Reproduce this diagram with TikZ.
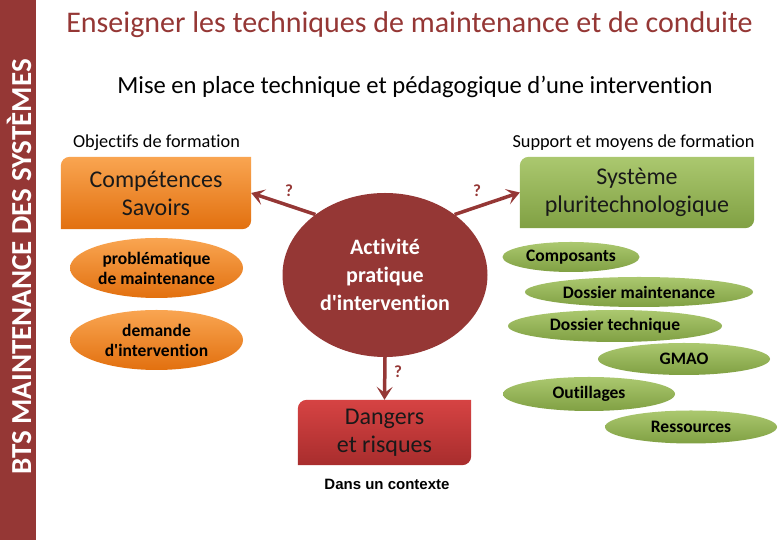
\documentclass[tikz,border=0pt]{standalone}
\usepackage{fontspec}
\setmainfont{Carlito}[Ligatures={TeXOff,NoCommon}]
\newfontfamily\arialfont{Liberation Sans}
\usetikzlibrary{arrows.meta,%
                shapes.geometric,%
                backgrounds}
\definecolor{bordeaux}{HTML}{953735}
\definecolor{orangeA}{HTML}{F9A551}
\definecolor{orangeB}{HTML}{E2700F}
\definecolor{vertA}{HTML}{ABC86F}
\definecolor{vertB}{HTML}{80A043}
\definecolor{rougeA}{HTML}{D64343}
\definecolor{rougeB}{HTML}{A82D2D}
\newcommand{\fsz}[2]{\fontsize{#1}{#2}\selectfont}

\begin{document}
\begin{tikzpicture}[x=1pt,y=1pt,>={Stealth[length=13pt,width=16pt,inset=6pt]}]
  \tikzset{boite/.style   = {minimum width=#1, inner sep=0pt, align=center,
                             text=black!90, font=\fsz{24}{28}},
           bulle/.style   = {ellipse, inner sep=0pt, align=center,
                             font=\bfseries\fsz{17.5}{20}},
           orangeb/.style = {bulle, top color=orangeA, bottom color=orangeB},
           verteb/.style  = {bulle, top color=vertA, bottom color=vertB},
           fleche/.style  = {->, line width=3.5pt, bordeaux},
           quest/.style   = {text=bordeaux, font=\bfseries\fsz{17}{20}},
           legende/.style = {font=\fsz{18.3}{21}}}
  \useasboundingbox (0,0) rectangle (780,540);
  \fill[bordeaux] (0,0) rectangle (36,540);
  \node[rotate=90, text=white, font=\bfseries\fsz{29}{31}] (bts) at (19,273)
       {BTS MAINTENANCE DES SYSTÈMES};

  \node[anchor=base, text=bordeaux, font=\fsz{30}{34}] (titre) at (409.5,507)
       {Enseigner les techniques de maintenance et de conduite};
  \node[anchor=base, font=\fsz{24.6}{28}] (mise) at (415,446)
       {Mise en place technique et pédagogique d’une intervention};
  \node[legende, anchor=base] (obj) at (156.5,392) {Objectifs de formation};
  \node[legende, anchor=base] (sup) at (633.5,392) {Support et moyens de formation};

  % boites
  \node[boite=190pt, minimum height=72pt] (comp) at (156,347) {Compétences\\Savoirs};
  \node[boite=234pt, minimum height=71pt] (sys)  at (637,347.5) {Système\\pluritechnologique};
  \node[boite=173pt, minimum height=65pt] (dang) at (384.5,107.5) {Dangers\\et risques};
  \begin{pgfonlayer}{background}
    \fill[white] (0,0) rectangle (780,540);
    \foreach \n/\c in {comp/orange, sys/vert, dang/rouge}
      \shade[top color=\c A, bottom color=\c B]
        ([yshift=-9pt]\n.north west) arc[start angle=180, end angle=90, radius=9pt]
        -- (\n.north east) -- ([yshift=9pt]\n.south east)
        arc[start angle=0, end angle=-90, radius=9pt] -- (\n.south west) -- cycle;
  \end{pgfonlayer}

  \node[ellipse, fill=bordeaux, minimum width=205pt, minimum height=164pt,
        inner sep=0pt, align=center, text=white, font=\bfseries\fsz{22}{28}]
       (act) at (385,265) {Activité\\pratique\\d'intervention};

  \node[orangeb, minimum width=173pt, minimum height=60pt] (pb)  at (156.5,272)
       {problématique\\de maintenance};
  \node[orangeb, minimum width=173pt, minimum height=60pt] (dem) at (156.5,200)
       {demande\\d'intervention};

  \node[verteb, minimum width=137pt, minimum height=30pt] (cps)  at (571,283) {Composants};
  \node[verteb, minimum width=228pt, minimum height=30pt] (dma)  at (639,248) {Dossier maintenance};
  \node[verteb, minimum width=214pt, minimum height=32pt] (dte)  at (615,214) {Dossier technique};
  \node[verteb, minimum width=172pt, minimum height=32pt] (gmao) at (684,181) {GMAO};
  \node[verteb, minimum width=172pt, minimum height=34pt] (out)  at (589,146) {Outillages};
  \node[verteb, minimum width=172pt, minimum height=33pt] (res)  at (691,113) {Ressources};

  \node[font=\arialfont\bfseries\fsz{15}{18}] (ctx) at (387,56) {Dans un contexte};

  \draw[fleche] (act.139) -- (comp.east);
  \draw[fleche] (act.41) -- (sys.west);
  \draw[fleche] (act.south) -- (dang.north);
  \node[quest] (q1) at (289,349) {?};
  \node[quest] (q2) at (477,349) {?};
  \node[quest] (q3) at (398,168) {?};
\end{tikzpicture}
\end{document}
